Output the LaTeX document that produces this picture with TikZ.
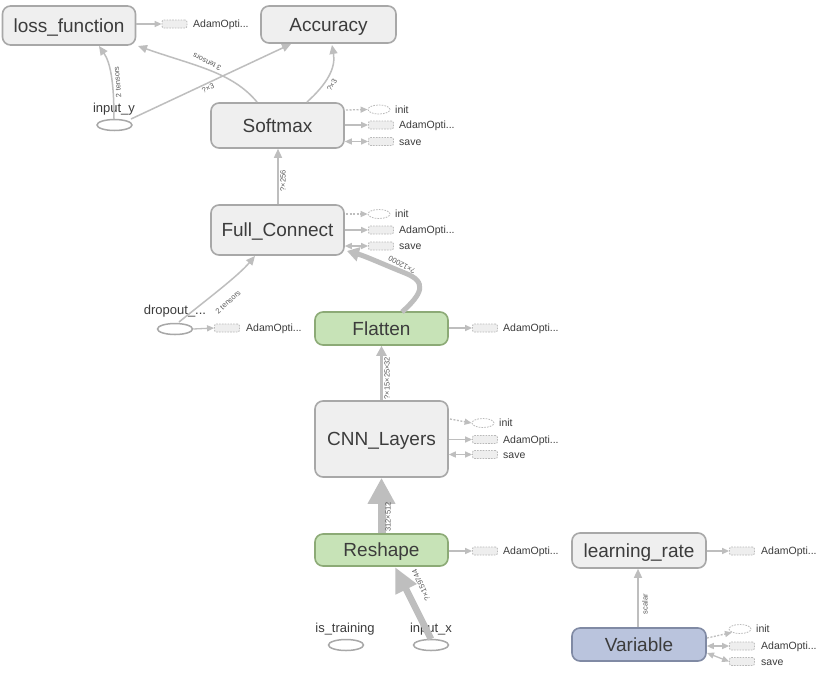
\documentclass[tikz,border=0pt]{standalone}
\usepackage{fontspec}
\setmainfont{Liberation Sans}
\usetikzlibrary{arrows.meta,shapes.geometric}
\definecolor{nodefill}{RGB}{239,239,239}
\definecolor{nodedraw}{RGB}{168,168,168}
\definecolor{greenfill}{RGB}{199,227,183}
\definecolor{greendraw}{RGB}{140,170,118}
\definecolor{bluefill}{RGB}{186,196,221}
\definecolor{bluedraw}{RGB}{128,138,164}
\definecolor{edgec}{RGB}{190,190,190}
\definecolor{auxdraw}{RGB}{185,185,185}
\definecolor{auxfill}{RGB}{238,238,238}
\definecolor{txt}{RGB}{60,60,60}
\definecolor{lblc}{RGB}{90,90,90}
\begin{document}
\begin{tikzpicture}[x=1pt,y=-1pt,
  op/.style={rectangle, draw=nodedraw, fill=nodefill, line width=1.6pt, rounded corners=8pt,
    inner sep=0pt, font=\fontsize{19}{22}\selectfont, text=txt, minimum width=133pt,
    text height=13.6pt, text depth=0pt},
  greenop/.style={op, draw=greendraw, fill=greenfill},
  blueop/.style={op, draw=bluedraw, fill=bluefill},
  ph/.style={ellipse, draw=nodedraw, fill=white, line width=1.5pt, minimum width=35pt,
    minimum height=11pt, inner sep=0pt},
  phlbl/.style={font=\fontsize{13}{15}\selectfont, text=txt, inner sep=0pt,
    text height=9.3pt, text depth=0pt},
  auxbox/.style={rectangle, draw=auxdraw, dash pattern=on 1.6pt off 1.2pt, fill=auxfill,
    rounded corners=2pt, minimum width=25pt, minimum height=8pt, inner sep=0pt, line width=0.8pt},
  auxell/.style={ellipse, draw=auxdraw, dash pattern=on 1.6pt off 1.2pt, fill=white,
    minimum width=22pt, minimum height=9pt, inner sep=0pt, line width=0.8pt},
  auxlbl/.style={anchor=west, font=\fontsize{10.5}{12}\selectfont, text=txt, inner sep=0pt,
    text height=7.5pt, text depth=0pt},
  edge/.style={draw=edgec, line width=1.5pt, -{Triangle[length=9pt,width=8pt]}},
  auxarrow/.style={draw=edgec, line width=1.3pt, -{Triangle[length=7pt,width=6pt]}},
  auxdash/.style={auxarrow, dash pattern=on 2pt off 1.5pt},
  auxboth/.style={draw=edgec, line width=1.3pt, {Triangle[length=7pt,width=6pt]}-{Triangle[length=7pt,width=6pt]}},
  lbl/.style={font=\fontsize{7.5}{8}\selectfont, text=lblc, inner sep=0pt}
]
\useasboundingbox[fill=white] (0,0) rectangle (822,673);

% main nodes
\node[op, minimum height=39pt] (loss) at (69,25.5) {loss\_function};
\node[op, minimum width=135pt, minimum height=37pt] (acc) at (328.5,24.5) {Accuracy};
\node[op, minimum height=45pt] (soft) at (277.5,125.5) {Softmax};
\node[op, minimum height=50pt] (fc) at (277.5,230) {Full\_Connect};
\node[greenop, minimum height=33pt] (flat) at (381.5,328.5) {Flatten};
\node[op, minimum height=76pt] (cnn) at (381.5,439) {CNN\_Layers};
\node[greenop, minimum height=32pt] (resh) at (381.5,550) {Reshape};
\node[op, minimum width=134pt, minimum height=35pt] (lr) at (639,550.5) {learning\_rate};
\node[blueop, minimum width=134pt, minimum height=33pt] (var) at (639,644.5) {Variable};

% placeholders
\node[ph] (iny) at (114.5,125) {};
\node[phlbl] (inylbl) at (114,108) {input\_y};
\node[ph] (drop) at (175,329) {};
\node[phlbl] (droplbl) at (175,310) {dropout\_...};
\node[ph] (istr) at (346,645) {};
\node[phlbl] (istrlbl) at (345,628) {is\_training};
\node[ph] (inx) at (431,645) {};
\node[phlbl] (inxlbl) at (431,628) {input\_x};

% main edges
\coordinate (e1s) at (114,119);
\coordinate (e1t) at (99,46);
\draw[edge] (e1s) .. controls (114,80) and (110,62) .. (e1t);
\node[lbl, rotate=95] (l1) at (117.5,82) {2 tensors};

\coordinate (e2s) at (131,119);
\coordinate (e2t) at (291,44);
\draw[edge] (e2s) -- (e2t);
\node[lbl, rotate=25] (l2) at (208,88) {?×3};

\coordinate (e3s) at (257,102);
\coordinate (e3t) at (138,46);
\draw[edge] (e3s) .. controls (232,72) and (195,66) .. (e3t);
\node[lbl, rotate=153] (l3) at (207,62) {3 tensors};

\coordinate (e4s) at (307,102);
\coordinate (e4t) at (332,45);
\draw[edge] (e4s) .. controls (327,84) and (336,68) .. (e4t);
\node[lbl, rotate=60] (l4) at (332,85) {?×3};

\draw[edge] (fc.north -| 278,0) -- (soft.south -| 278,0);
\node[lbl, rotate=90] (l5) at (283,181) {?×256};

\coordinate (e6s) at (179,322);
\coordinate (e6t) at (255,256);
\draw[edge] (e6s) .. controls (210,297) and (238,276) .. (e6t);
\node[lbl, rotate=42] (l6) at (228,302) {2 tensors};

\coordinate (e7s) at (402,312);
\coordinate (e7t) at (347,251);
\coordinate (e7m) at (405,273);
\draw[draw=edgec, line width=5pt, -{Triangle[length=12pt,width=14pt]}] (e7s) .. controls (422,294) and (428,282) .. (e7m) .. controls (385,265) and (365,256) .. (e7t);
\node[lbl, rotate=152] (l7) at (402,265) {?×12000};

\draw[draw=edgec, line width=3.5pt, -{Triangle[length=10pt,width=10pt]}] (cnn.north) -- (flat.south);
\node[lbl, rotate=90] (l8) at (387,378) {?×15×25×32};

\draw[draw=edgec, line width=8pt, -{Triangle[length=26pt,width=26pt]}] (resh.north) -- (cnn.south);
\node[lbl, rotate=90] (l9) at (388,517) {312×512};

\coordinate (e10s) at (431,639);
\coordinate (e10t) at (395,567);
\draw[draw=edgec, line width=6.5pt, -{Triangle[length=25pt,width=22pt]}] (e10s) -- (e10t);
\node[lbl, rotate=115] (l10) at (421,585) {?×159744};

\draw[edge] (var.north -| 638,0) -- (lr.south -| 638,0);
\node[lbl, rotate=90] (l11) at (645,604) {scalar};

% auxiliary: loss_function
\node[auxbox] (lossA) at (174.5,24) {};
\node[auxlbl] at (193,24) {AdamOpti...};
\draw[auxarrow] (loss.east |- lossA) -- (lossA.west);

% auxiliary: Softmax
\node[auxell] (softI) at (379,109.5) {};
\node[auxlbl] at (395,109.5) {init};
\node[auxbox] (softA) at (381,125) {};
\node[auxlbl] at (399,125) {AdamOpti...};
\node[auxbox] (softS) at (381,141.5) {};
\node[auxlbl] at (399,141.5) {save};
\draw[auxdash] (346,110) -- (softI.west);
\draw[auxarrow] (soft.east |- softA) -- (softA.west);
\draw[auxboth] (soft.east |- softS) -- (softS.west);

% auxiliary: Full_Connect
\node[auxell] (fcI) at (379,214) {};
\node[auxlbl] at (395,214) {init};
\node[auxbox] (fcA) at (381,230) {};
\node[auxlbl] at (399,230) {AdamOpti...};
\node[auxbox] (fcS) at (381,246) {};
\node[auxlbl] at (399,246) {save};
\draw[auxdash] (346,214) -- (fcI.west);
\draw[auxarrow] (fc.east |- fcA) -- (fcA.west);
\draw[auxboth] (fc.east |- fcS) -- (fcS.west);

% auxiliary: dropout
\node[auxbox] (dropA) at (227,328) {};
\node[auxlbl] at (246,328) {AdamOpti...};
\draw[auxarrow] (drop.east) -- (dropA.west);

% auxiliary: Flatten
\node[auxbox] (flatA) at (485,328) {};
\node[auxlbl] at (503,328) {AdamOpti...};
\draw[auxarrow] (flat.east |- flatA) -- (flatA.west);

% auxiliary: CNN_Layers
\node[auxell] (cnnI) at (483,423) {};
\node[auxlbl] at (499,423) {init};
\node[auxbox] (cnnA) at (485,439.5) {};
\node[auxlbl] at (503,439.5) {AdamOpti...};
\node[auxbox] (cnnS) at (485,454.5) {};
\node[auxlbl] at (503,454.5) {save};
\draw[auxdash] (450,419) -- (cnnI.west);
\draw[auxarrow] (cnn.east |- cnnA) -- (cnnA.west);
\draw[auxboth] (cnn.east |- cnnS) -- (cnnS.west);

% auxiliary: Reshape
\node[auxbox] (reshA) at (485,551) {};
\node[auxlbl] at (503,551) {AdamOpti...};
\draw[auxarrow] (resh.east |- reshA) -- (reshA.west);

% auxiliary: learning_rate
\node[auxbox] (lrA) at (742,551) {};
\node[auxlbl] at (761,551) {AdamOpti...};
\draw[auxarrow] (lr.east |- lrA) -- (lrA.west);

% auxiliary: Variable
\node[auxell] (varI) at (740,629) {};
\node[auxlbl] at (756,629) {init};
\node[auxbox] (varA) at (742,646) {};
\node[auxlbl] at (761,646) {AdamOpti...};
\node[auxbox] (varS) at (742,661.5) {};
\node[auxlbl] at (761,661.5) {save};
\draw[auxdash] (707,638) -- (varI.south west);
\draw[auxboth] (var.east |- varA) -- (varA.west);
\draw[auxboth] (707,653) -- (varS.west);
\end{tikzpicture}
\end{document}
